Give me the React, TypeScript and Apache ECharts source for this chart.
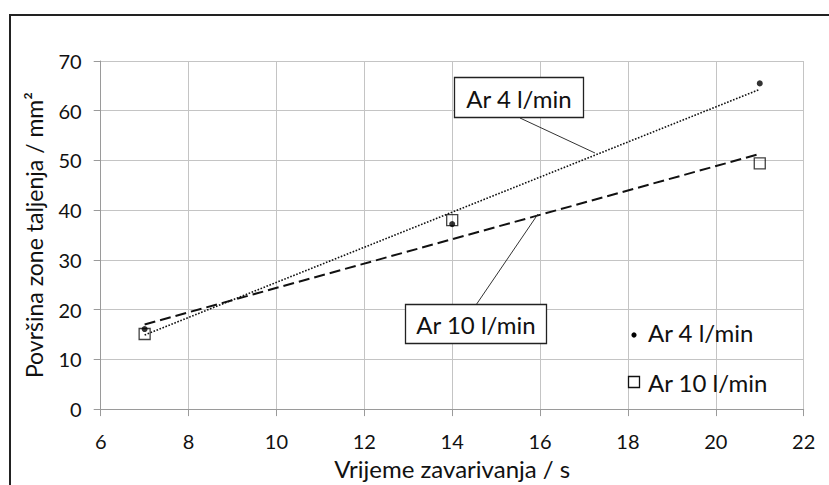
import React, { useEffect, useRef } from "react";
import * as echarts from "echarts";

const times = [7, 14, 21];
const ar4 = [16.1, 37.2, 65.5];
const ar10 = [15.1, 38.0, 49.4];
const seriesNames = ["Ar 4 l/min", "Ar 10 l/min"];
const xTitle = "Vrijeme zavarivanja / s";
const yTitle = "Površina zone taljenja / mm²";

function linFit(xs: number[], ys: number[]) {
  const n = xs.length;
  const mx = xs.reduce((a, b) => a + b, 0) / n;
  const my = ys.reduce((a, b) => a + b, 0) / n;
  let sxy = 0, sxx = 0;
  for (let i = 0; i < n; i++) {
    sxy += (xs[i] - mx) * (ys[i] - my);
    sxx += (xs[i] - mx) * (xs[i] - mx);
  }
  const k = sxy / sxx;
  const b = my - k * mx;
  const x0 = Math.min(...xs), x1 = Math.max(...xs);
  return [[x0, k * x0 + b], [x1, k * x1 + b]];
}

const FONT = "Lato";

export default function App() {
  const ref = useRef<HTMLDivElement>(null);
  useEffect(() => {
    if (!ref.current) return;
    const chart = echarts.init(ref.current, null, { renderer: "svg" });
    const fit4 = linFit(times, ar4);
    const fit10 = linFit(times, ar10);
    chart.setOption({
      animation: false,
      backgroundColor: "#ffffff",
      textStyle: { fontFamily: FONT },
      grid: { left: 100.7, top: 61, right: 25.3, bottom: 74 },
      xAxis: {
        type: "value",
        min: 6,
        max: 22,
        interval: 2,
        name: xTitle,
        nameLocation: "middle",
        nameGap: 46,
        nameTextStyle: { fontSize: 24, color: "#111", fontFamily: FONT },
        axisLine: { show: true, onZero: false, lineStyle: { color: "#9a9a9a", width: 1 } },
        axisTick: { show: true, inside: false, length: 7, lineStyle: { color: "#9a9a9a" } },
        axisLabel: { fontSize: 20, color: "#111", margin: 22, fontFamily: FONT },
        splitLine: { show: true, lineStyle: { color: "#c4c4c4", width: 1 } },
      },
      yAxis: {
        type: "value",
        min: 0,
        max: 70,
        interval: 10,
        name: yTitle,
        nameLocation: "middle",
        nameGap: 55,
        nameTextStyle: { fontSize: 23, color: "#111", fontFamily: FONT },
        axisLine: { show: true, lineStyle: { color: "#9a9a9a", width: 1 } },
        axisTick: { show: true, inside: false, length: 7, lineStyle: { color: "#9a9a9a" } },
        axisLabel: { fontSize: 20, color: "#111", margin: 19, fontFamily: FONT },
        splitLine: { show: true, lineStyle: { color: "#c4c4c4", width: 1 } },
      },
      series: [
        {
          name: seriesNames[0] + " trend",
          type: "line",
          data: fit4,
          symbol: "none",
          lineStyle: { color: "#111", width: 1.6, type: [1.6, 1.6] },
          z: 2,
        },
        {
          name: seriesNames[1] + " trend",
          type: "line",
          data: fit10,
          symbol: "none",
          lineStyle: { color: "#111", width: 2, type: [11, 5] },
          z: 2,
        },
        {
          name: seriesNames[1],
          type: "scatter",
          data: times.map((t, i) => [t, ar10[i]]),
          symbol: "rect",
          symbolSize: 11,
          itemStyle: { color: "rgba(0,0,0,0)", borderColor: "#111", borderWidth: 1.3 },
          z: 3,
        },
        {
          name: seriesNames[0],
          type: "scatter",
          data: times.map((t, i) => [t, ar4[i]]),
          symbol: "circle",
          symbolSize: 6,
          itemStyle: { color: "#000" },
          z: 4,
        },
      ],
      graphic: [
        {
          type: "polyline",
          shape: { points: [[10, 490], [10, 15], [835, 15]] },
          style: { stroke: "#222", lineWidth: 2, fill: "none" },
          z: 10,
        },
        // callout Ar 4
        {
          type: "line",
          shape: { x1: 520, y1: 118, x2: 595, y2: 153 },
          style: { stroke: "#333", lineWidth: 1 },
          z: 10,
        },
        {
          type: "rect",
          shape: { x: 454.5, y: 77.5, width: 129, height: 40 },
          style: { fill: "#fff", stroke: "#222", lineWidth: 1.3 },
          z: 11,
        },
        {
          type: "text",
          x: 519,
          y: 98,
          style: { text: seriesNames[0], fontSize: 24, fontFamily: FONT, fill: "#111", align: "center", verticalAlign: "middle" },
          z: 12,
        },
        // callout Ar 10
        {
          type: "line",
          shape: { x1: 476, y1: 305, x2: 538, y2: 214 },
          style: { stroke: "#333", lineWidth: 1 },
          z: 10,
        },
        {
          type: "rect",
          shape: { x: 405.5, y: 304.5, width: 141, height: 39 },
          style: { fill: "#fff", stroke: "#222", lineWidth: 1.3 },
          z: 11,
        },
        {
          type: "text",
          x: 476,
          y: 324,
          style: { text: seriesNames[1], fontSize: 24, fontFamily: FONT, fill: "#111", align: "center", verticalAlign: "middle" },
          z: 12,
        },
        // legend
        {
          type: "circle",
          shape: { cx: 634, cy: 335, r: 2.6 },
          style: { fill: "#000" },
          z: 12,
        },
        {
          type: "text",
          x: 648,
          y: 332,
          style: { text: seriesNames[0], fontSize: 24, fontFamily: FONT, fill: "#111", align: "left", verticalAlign: "middle" },
          z: 12,
        },
        {
          type: "rect",
          shape: { x: 628.5, y: 376.5, width: 11, height: 11 },
          style: { fill: "#fff", stroke: "#111", lineWidth: 1.3 },
          z: 12,
        },
        {
          type: "text",
          x: 648,
          y: 382,
          style: { text: seriesNames[1], fontSize: 24, fontFamily: FONT, fill: "#111", align: "left", verticalAlign: "middle" },
          z: 12,
        },
      ],
    });
    return () => chart.dispose();
  }, []);
  return (
    <div
      ref={ref}
      style={{ position: "fixed", left: 0, top: 0, width: 829, height: 485, background: "#fff" }}
    />
  );
}
